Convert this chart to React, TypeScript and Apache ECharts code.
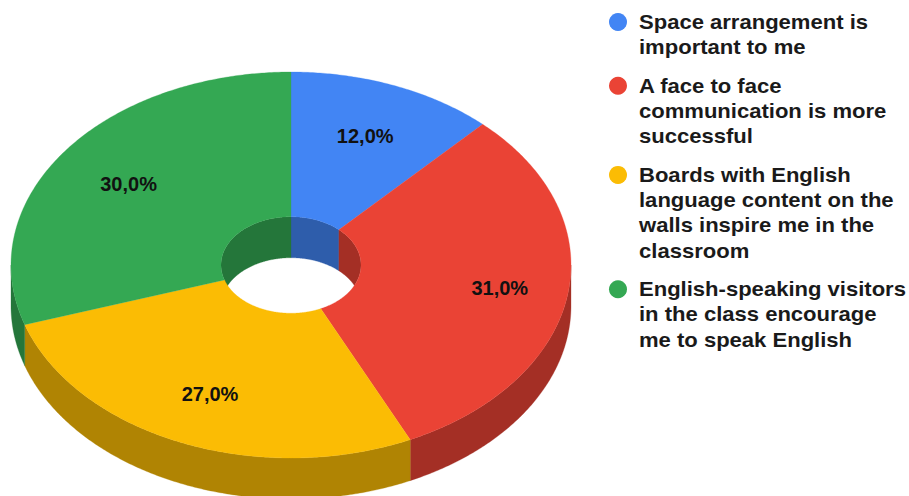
import React, { useEffect, useRef } from "react";
import * as echarts from "echarts";

const categories = [
  "Space arrangement is\nimportant to me",
  "A face to face\ncommunication is more\nsuccessful",
  "Boards with English\nlanguage content on the\nwalls inspire me in the\nclassroom",
  "English-speaking visitors\nin the class encourage\nme to speak English",
];
const shares = [12, 31, 27, 30];
const topColors = ["#4285F4", "#EA4335", "#FBBC04", "#34A853"];
const wallColors = ["#2E5DAB", "#A42F25", "#B08403", "#24763A"];
const labelRadiusFactors = [0.72, 0.755, 0.728, 0.717];

// Projected geometry of the tilted ring
const CX = 291;
const CY = 265;
const RX = 280;
const RY = 193;
const HOLE = 0.25;
const DEPTH = 41;

const total = shares.reduce((a, b) => a + b, 0);
const startOf = (i: number) =>
  (shares.slice(0, i).reduce((a, b) => a + b, 0) / total) * 360;

const project = (deg: number, factor: number, drop = 0): number[] => {
  const t = (deg * Math.PI) / 180;
  return [CX + RX * factor * Math.sin(t), CY - RY * factor * Math.cos(t) + drop];
};

const arc = (from: number, to: number, factor: number, drop = 0): number[][] => {
  const pts: number[][] = [];
  const steps = Math.max(2, Math.ceil(Math.abs(to - from) * 2));
  for (let k = 0; k <= steps; k++) {
    pts.push(project(from + ((to - from) * k) / steps, factor, drop));
  }
  return pts;
};

// Sub-range of [a, b] overlapping [lo, hi], or null
const overlap = (a: number, b: number, lo: number, hi: number) => {
  const s = Math.max(a, lo);
  const e = Math.min(b, hi);
  return e > s ? [s, e] : null;
};

const band = (from: number, to: number, factor: number, color: string) => ({
  type: "polygon",
  shape: {
    points: [...arc(from, to, factor), ...arc(to, from, factor, DEPTH)],
  },
  style: { fill: color, stroke: color, lineWidth: 0.3 },
});

const renderWalls = (params: any, api: any) => {
  const i = params.dataIndex;
  const a = startOf(i);
  const b = a + (api.value(0) / total) * 360;
  const children: any[] = [];
  const outer = overlap(a, b, 90, 270);
  if (outer) children.push(band(outer[0], outer[1], 1, wallColors[i]));
  // The far side of the hole wraps through 360 degrees
  for (const [lo, hi] of [
    [0, 115],
    [245, 360],
  ]) {
    const inner = overlap(a, b, lo, hi);
    if (inner) children.push(band(inner[0], inner[1], HOLE, wallColors[i]));
  }
  return { type: "group", children };
};

const renderTops = (params: any, api: any) => {
  const i = params.dataIndex;
  const value = api.value(0);
  const a = startOf(i);
  const b = a + (value / total) * 360;
  const [lx, ly] = project((a + b) / 2, labelRadiusFactors[i]);
  return {
    type: "group",
    children: [
      {
        type: "polygon",
        shape: { points: [...arc(a, b, 1), ...arc(b, a, HOLE)] },
        style: { fill: topColors[i], stroke: topColors[i], lineWidth: 0.3 },
      },
      {
        type: "text",
        x: lx,
        y: ly,
        z2: 10,
        style: {
          text: `${value.toFixed(1).replace(".", ",")}%`,
          x: 0,
          y: 0,
          align: "center",
          verticalAlign: "middle",
          fill: "#111111",
          font: 'bold 20px "Liberation Sans", Arial, sans-serif',
        },
      },
    ],
  };
};

const LEGEND_LINE = 25.3;
const LEGEND_GAP = 13.2;

const legendElements = () => {
  const out: any[] = [];
  let y = 22;
  categories.forEach((name, i) => {
    out.push({
      type: "circle",
      shape: { cx: 618, cy: y, r: 9 },
      style: { fill: topColors[i] },
    });
    out.push({
      type: "text",
      x: 639,
      y: y - LEGEND_LINE / 2,
      scaleX: 1.05,
      style: {
        text: name,
        fill: "#1a1a1a",
        font: 'bold 21px "Liberation Sans", sans-serif',
        lineHeight: LEGEND_LINE,
        align: "left",
        verticalAlign: "top",
      },
    });
    y += name.split("\n").length * LEGEND_LINE + LEGEND_GAP;
  });
  return out;
};

export default function App() {
  const ref = useRef<HTMLDivElement>(null);
  useEffect(() => {
    document.body.style.margin = "0";
    const chart = echarts.init(ref.current!, null, { renderer: "svg" });
    const data = shares.map((v) => [v]);
    chart.setOption({
      animation: false,
      backgroundColor: "#ffffff",
      graphic: legendElements(),
      series: [
        { type: "custom", coordinateSystem: "none", z: 1, silent: true, data, renderItem: renderWalls },
        { type: "custom", coordinateSystem: "none", z: 2, silent: true, data, renderItem: renderTops },
      ],
    });
    return () => chart.dispose();
  }, []);
  return <div ref={ref} style={{ width: 909, height: 496 }} />;
}
